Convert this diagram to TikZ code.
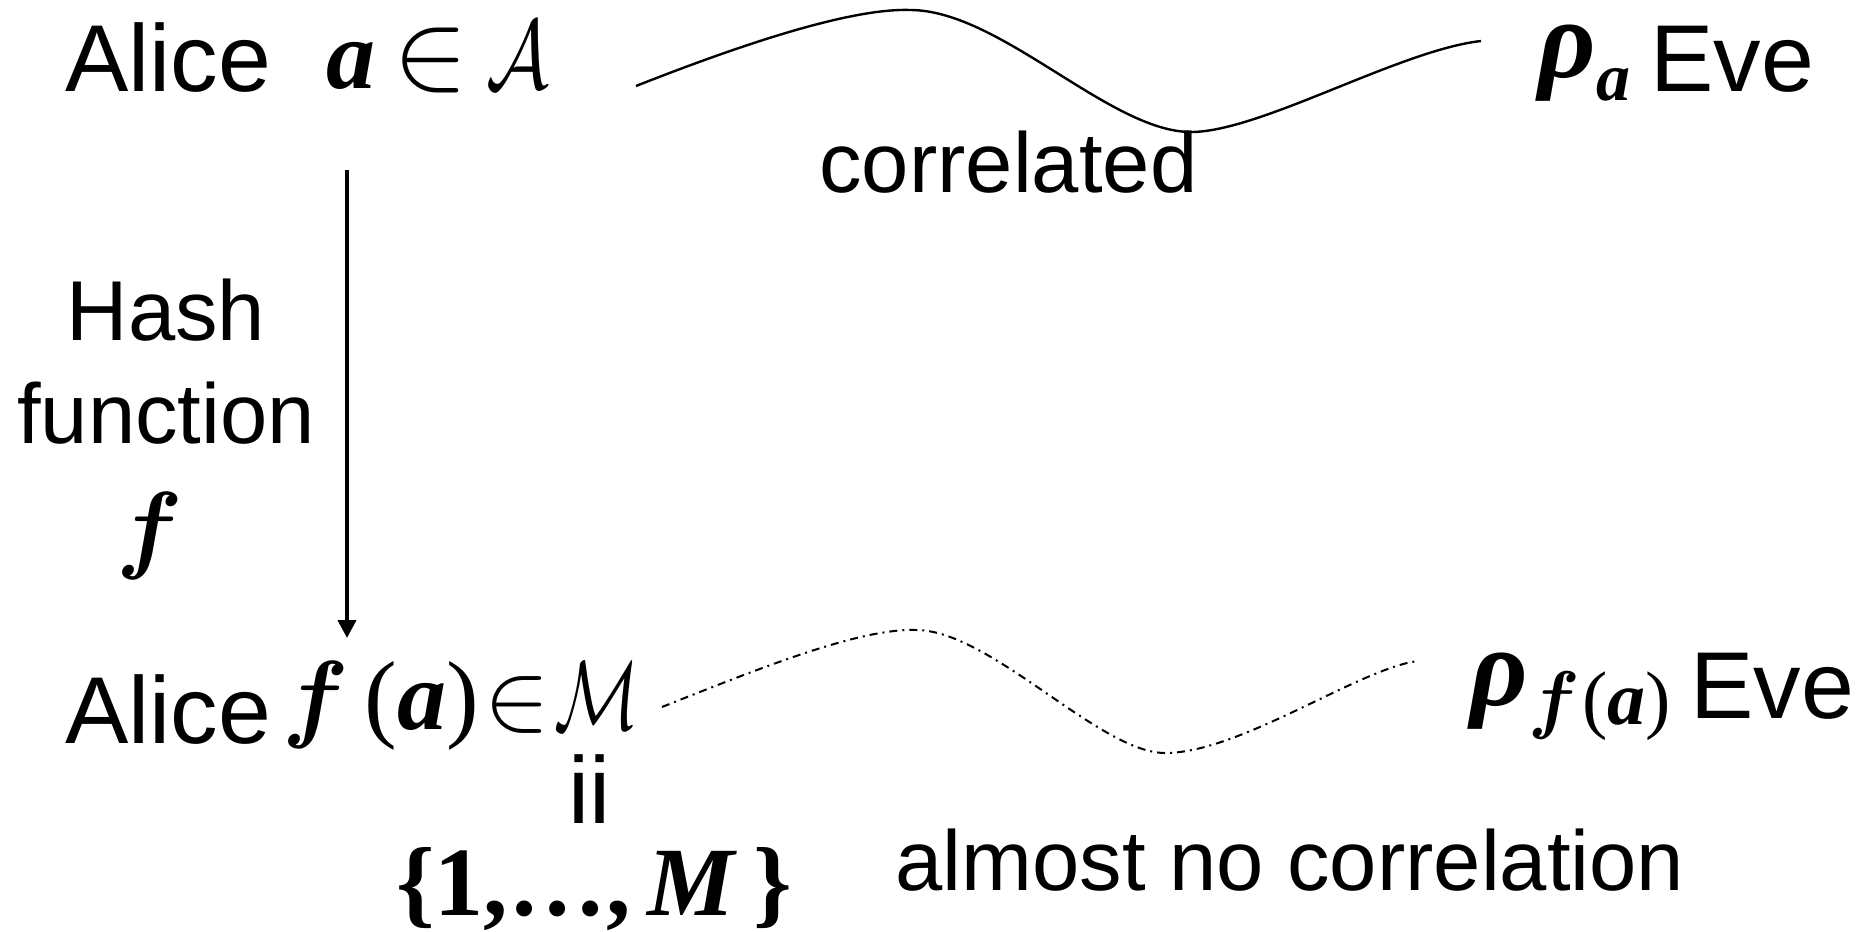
\documentclass[tikz,border=0pt]{standalone}
\usepackage{fix-cm}
\usepackage{bm}
\usepackage{graphicx}
\usepackage{fontspec}
\setmainfont{Liberation Sans}
\newfontfamily\timesfont{Liberation Serif}
\usetikzlibrary{arrows.meta}
\newcommand\bi[1]{{\timesfont\bfseries\itshape #1}}
\newcommand\setsym[2]{\scalebox{#1}[1]{$\mathcal{#2}$}}

\begin{document}
\begin{tikzpicture}[
x=0.5pt, y=-0.5pt,
every node/.style={inner sep=0pt},
party/.style={anchor=base west, font=\fontsize{47.5}{57}\selectfont},
remark/.style={font=\fontsize{42.5}{51}\selectfont},
symb/.style={anchor=base west, font=\fontsize{49}{59}\selectfont\timesfont},
bigsymb/.style={anchor=base west, font=\fontsize{56}{60}\selectfont\timesfont},
subsymb/.style={anchor=base west, font=\fontsize{#1}{40}\selectfont\timesfont},
wave/.style={line width=1.2pt},
]
\useasboundingbox (0,0) rectangle (1866,931);
\node[party] (alice) at (65,91) {Alice};
\node[symb] (a1) at (326,89) {\bi{a}};
\node[bigsymb] (inA) at (393,89) {$\in$};
\node[symb] (setA) at (486,89) {\setsym{0.8}{A}};
\node[bigsymb] (rhoA) at (1538,78) {\bi{ρ}};
\node[subsymb=34] (subA) at ([yshift=-11pt]rhoA.base east) {\bi{a}};
\node[party] (eve) at (1650,91) {Eve};
\node[remark, anchor=base west] (corr) at (819,192) {correlated};
\node[remark, anchor=base] (hash) at (166,340) {Hash};
\node[remark, anchor=base] (func) at (166,443) {function};
\node[symb, anchor=base] (fsym) at (150,560) {$\bm{f}$};
\node[party] (alice2) at (65,743) {Alice};
\node[symb] (fofa) at (282,729) {$\bm{f}$\hspace{8pt}(\bi{a})};
\node[symb, anchor=base east] (inM) at (550,729) {$\in$};
\node[symb, anchor=base east] (setM) at (640,729) {\setsym{0.72}{M}};
\node[party, anchor=base] (isdef) at (590,823) {ii};
\node[symb, anchor=base] (range) at (594,915) {\bfseries\{1,…,\,\textit{M}\,\}};
\node[bigsymb] (rhoF) at (1470,705) {\bi{ρ}};
\node[subsymb=38] (subF) at ([yshift=-9.5pt]rhoF.base east) {$\bm{f}$\hspace{1pt}(\bi{a})};
\node[party] (eve2) at (1690,718) {Eve};
\node[remark, anchor=base west] (nocorr) at (895,890) {almost no correlation};
\coordinate (hashtop) at (347,170);
\coordinate (hashtip) at (347,638);
\draw[line width=2pt, -{Triangle[length=9pt,width=9pt]}] (hashtop) -- (hashtip);
\coordinate (topL) at (636,86);
\coordinate (topR) at (1481,41);
\draw[wave] (topL) .. controls (740,45) and (850,8) .. (910,10)
  .. controls (1000,10) and (1110,132) .. (1191,132)
  .. controls (1260,132) and (1400,50) .. (topR);
\coordinate (botL) at (662,707);
\coordinate (botR) at (1418,661);
\draw[wave, line width=1pt, dash pattern=on 4pt off 2.5pt on 1pt off 2.5pt] (botL) .. controls (760,668) and (860,628) .. (916,630)
  .. controls (990,630) and (1100,753) .. (1165,753)
  .. controls (1240,753) and (1360,668) .. (botR);
\end{tikzpicture}
\end{document}
